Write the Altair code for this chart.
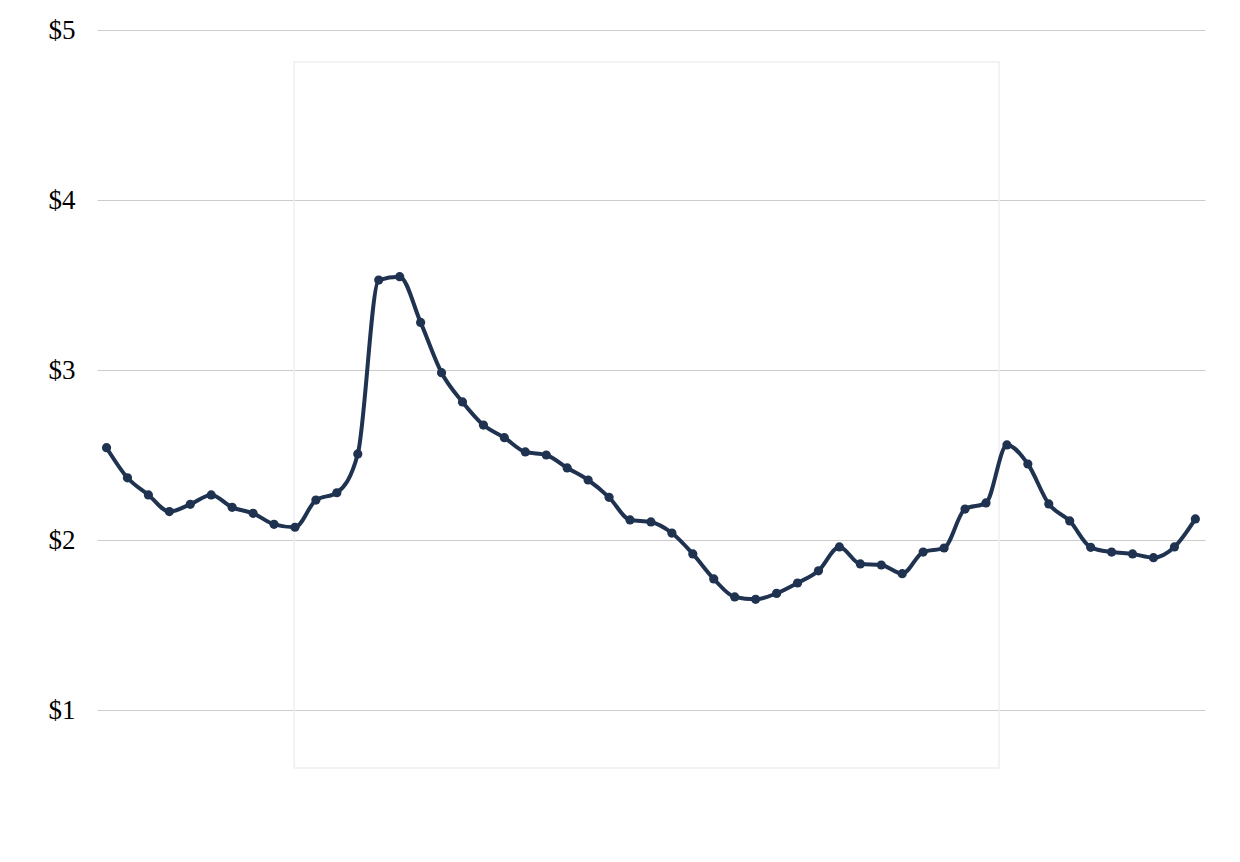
import altair as alt
import pandas as pd

values = [2.543, 2.366, 2.265, 2.167, 2.21, 2.265, 2.192, 2.157, 2.092, 2.075,
          2.235, 2.278, 2.506, 3.529, 3.549, 3.28, 2.984, 2.812, 2.676, 2.602,
          2.518, 2.5, 2.424, 2.353, 2.251, 2.118, 2.106, 2.041, 1.918, 1.771,
          1.665, 1.651, 1.686, 1.747, 1.819, 1.959, 1.859, 1.853, 1.802, 1.929,
          1.953, 2.182, 2.218, 2.559, 2.447, 2.212, 2.112, 1.957, 1.929, 1.918,
          1.896, 1.959, 2.124]
index = list(range(len(values)))
y_ticks = [1, 2, 3, 4, 5]

# faint frame (data units)
frame_x = [8.96]
frame_x2 = [42.62]
frame_y = [4.812]
frame_y2 = [0.659]

df = pd.DataFrame({"i": index, "v": values})
frame = pd.DataFrame({"x": frame_x, "x2": frame_x2, "y": frame_y, "y2": frame_y2})

x_scale = alt.Scale(domain=[-0.455, 52.46], nice=False, zero=False)
y_scale = alt.Scale(domain=[0.5, 5.1], nice=False, zero=False)

y_axis = alt.Axis(values=y_ticks, format="$d", title=None, domain=False, ticks=False,
                  grid=True, gridColor="#cccccc", gridWidth=1,
                  labelFont="Liberation Serif", labelFontSize=27, labelColor="#000000",
                  labelPadding=22, minExtent=84, maxExtent=84)

color = "#1f3350"

rect = alt.Chart(frame).mark_rect(fill="transparent", stroke="#efefef", strokeWidth=1.5).encode(
    x=alt.X("x:Q", scale=x_scale, axis=None),
    x2="x2:Q",
    y=alt.Y("y:Q", scale=y_scale, axis=y_axis),
    y2="y2:Q",
)

line = alt.Chart(df).mark_line(interpolate="monotone", color=color, strokeWidth=4).encode(
    x=alt.X("i:Q", scale=x_scale, axis=None),
    y=alt.Y("v:Q", scale=y_scale, axis=y_axis),
)

points = alt.Chart(df).mark_circle(color=color, size=85, opacity=1).encode(
    x=alt.X("i:Q", scale=x_scale, axis=None),
    y=alt.Y("v:Q", scale=y_scale, axis=y_axis),
)

chart = alt.layer(rect, line, points).properties(width=1108, height=782).configure_view(stroke=None)

chart.save("out.html", embed_options={"renderer": "svg", "actions": False})
